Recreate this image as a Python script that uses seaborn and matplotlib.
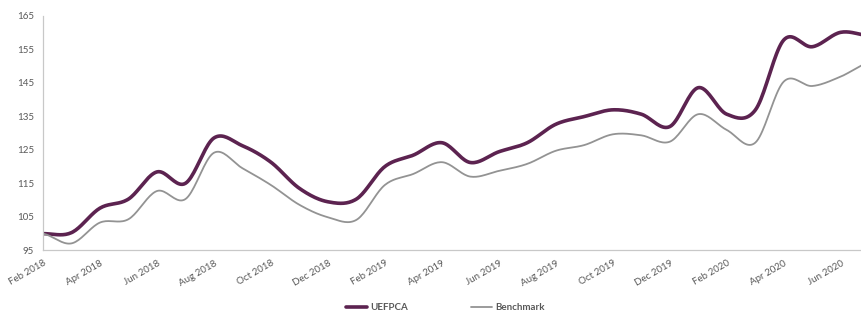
import numpy as np
import pandas as pd
import seaborn as sns
import matplotlib.pyplot as plt

# monthly index values, Feb 2018 - Jul 2020
months = pd.date_range('2018-02-01', '2020-07-01', freq='MS')
uefpca = [100, 100.3, 107.6, 110.3, 118.4, 115, 128.5, 126.2, 121.3, 113.5, 109.5,
          110.3, 120, 123.4, 127.1, 121.2, 124.4, 127.1, 132.6, 134.9, 136.9, 135.6, 131.9,
          143.5, 135.6, 136.8, 157.7, 155.7, 160, 159]
benchmark = [100, 97.1, 103.3, 104.3, 112.7, 110.3, 124.1, 119.5, 114.5, 108.6, 104.9,
             104.1, 114.5, 117.8, 121.3, 117, 118.7, 120.8, 124.7, 126.4, 129.6, 129.3, 127.4,
             135.6, 130.9, 127.1, 145.3, 144, 146.8, 151]
series_names = ['UEFPCA', 'Benchmark']
colors = ['#5C2350', '#939393']
yticks = [95, 105, 115, 125, 135, 145, 155, 165]


def smooth(y, n=20):
    # Excel-style smoothed line (cardinal spline through the monthly points)
    y = np.asarray(y, float)
    p = np.concatenate([[y[0]], y, [y[-1]]])
    xs, ys = [], []
    t = np.linspace(0, 1, n, endpoint=False)
    for i in range(len(y) - 1):
        p0, p1, p2, p3 = p[i], p[i + 1], p[i + 2], p[i + 3]
        c1 = p1 + (p2 - p0) / 6
        c2 = p2 - (p3 - p1) / 6
        b = (1 - t) ** 3 * p1 + 3 * (1 - t) ** 2 * t * c1 + 3 * (1 - t) * t ** 2 * c2 + t ** 3 * p2
        xs.extend(i + t)
        ys.extend(b)
    xs.append(len(y) - 1)
    ys.append(y[-1])
    return np.array(xs), np.array(ys)


frames = []
for name, vals in zip(series_names, [uefpca, benchmark]):
    sx, sy = smooth(vals)
    frames.append(pd.DataFrame({'x': sx, 'value': sy, 'series': name}))
df = pd.concat(frames)

sns.set_style('white')
plt.rcParams['font.family'] = ['Lato', 'DejaVu Sans']

fig = plt.figure(figsize=(8.61, 3.17), dpi=100)
ax = fig.add_axes([0.0499, 0.21, 0.951, 0.741])

sns.lineplot(data=df, x='x', y='value', hue='series', hue_order=series_names,
             palette=colors, size='series', sizes={'UEFPCA': 2.6, 'Benchmark': 1.3},
             ax=ax, sort=False, legend=True)

ax.set_xlim(0, 28.74)
ax.set_ylim(95, 165)
ax.set_yticks(yticks)
ax.set_yticklabels([str(v) for v in yticks])
tick_pos = list(range(0, len(months), 2))
ax.set_xticks(tick_pos)
ax.set_xticklabels([months[i].strftime('%b %Y') for i in tick_pos], rotation=30,
                   ha='right', rotation_mode='anchor')
ax.set_xlabel('')
ax.set_ylabel('')

for s in ['top', 'right']:
    ax.spines[s].set_visible(False)
for s in ['left', 'bottom']:
    ax.spines[s].set_color('#C8C8C8')
    ax.spines[s].set_linewidth(0.9)
ax.tick_params(axis='both', colors='#C8C8C8', labelcolor='#595959', labelsize=7,
               length=3, width=0.9, direction='out')
ax.tick_params(axis='x', pad=3)

handles, labels = ax.get_legend_handles_labels()
ax.legend_.remove()
keep = [(h, l) for h, l in zip(handles, labels) if l in series_names]
seen = {}
for h, l in keep:
    seen.setdefault(l, h)
hs = [seen[n] for n in series_names]
for h, c, w in zip(hs, colors, [2.6, 1.3]):
    h.set_color(c)
    h.set_linewidth(w)
leg = fig.legend(hs, series_names, loc='center', bbox_to_anchor=(0.517, 0.03), ncol=2,
                 frameon=False, fontsize=7, handlelength=2.2, handletextpad=0.3,
                 columnspacing=6.5)
for t in leg.get_texts():
    t.set_color('#595959')
    t.set_fontweight('bold')

fig.savefig('out.png', dpi=100)
